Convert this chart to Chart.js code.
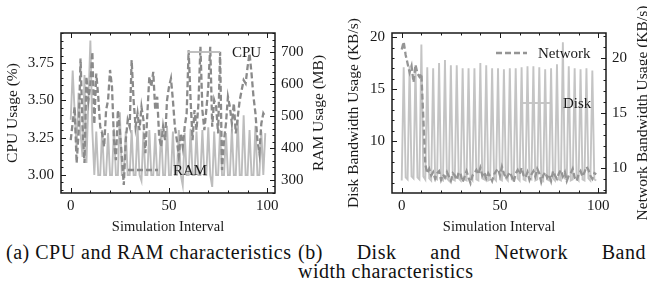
<!DOCTYPE html>
<html>
<head>
<meta charset="utf-8">
<script src="https://cdn.jsdelivr.net/npm/chart.js@4.4.1/dist/chart.umd.min.js"></script>
<style>
  html, body { margin: 0; padding: 0; background: #fff; overflow: hidden; width: 647px; height: 288px; }
  .wrap { position: absolute; top: 0; width: 330px; height: 240px; }
  .cap { position: absolute; font-family: "Liberation Serif", serif; font-size: 20px; letter-spacing: 0.5px; color: #111; line-height: 20px; }
</style>
</head>
<body>
<div class="wrap" style="left:0"><canvas id="cpuRam" width="330" height="240"></canvas></div>
<div class="wrap" style="left:330px"><canvas id="diskNet" width="330" height="240"></canvas></div>
<div class="cap" style="left:6px;top:242px;white-space:nowrap">(a) CPU and RAM characteristics</div>
<div class="cap" style="left:298px;top:242px;width:348px;text-align:justify;text-align-last:justify">(b) Disk and Network Band</div>
<div class="cap" style="left:298px;top:261px;white-space:nowrap">width characteristics</div>
<script>
// x positions: simulation interval 0..99
const intervals = Array.from({ length: 100 }, (_, i) => i);

const cpuUsage = [
  3.37, 3.70, 3.42, 3.18, 3.55, 3.28, 3.12, 3.67, 3.08, 3.50,
  3.90, 3.30, 3.00, 3.29, 3.00, 3.00, 3.30, 3.00, 3.00, 3.28,
  3.00, 3.00, 3.31, 3.00, 3.00, 3.42, 3.00, 3.00, 3.29, 3.00,
  3.00, 3.30, 3.00, 3.00, 3.33, 3.00, 2.96, 3.29, 3.00, 3.00,
  3.30, 3.00, 3.00, 3.28, 3.00, 3.00, 3.31, 3.00, 3.00, 3.33,
  3.00, 3.00, 3.29, 3.00, 3.00, 3.30, 3.00, 2.93, 3.28, 3.00,
  3.00, 3.31, 3.00, 3.00, 3.29, 3.00, 3.00, 3.30, 3.00, 3.00,
  3.32, 3.00, 2.92, 3.29, 3.00, 3.00, 3.30, 3.00, 3.00, 3.28,
  3.00, 3.00, 3.31, 3.00, 3.00, 3.37, 3.00, 3.00, 3.40, 3.00,
  3.00, 3.30, 3.00, 3.00, 3.33, 3.00, 3.00, 3.29, 3.00, 3.28
];

const ramUsage = [
  425, 480, 529, 353, 447, 681, 467, 353, 624, 550,
  600, 702, 475, 634, 561, 467, 446, 404, 519, 550,
  645, 592, 425, 362, 519, 456, 373, 284, 425, 488,
  467, 676, 550, 467, 509, 456, 529, 488, 384, 509,
  624, 592, 639, 519, 561, 435, 404, 467, 425, 550,
  592, 618, 550, 467, 425, 373, 446, 404, 467, 509,
  707, 550, 425, 519, 456, 540, 718, 519, 456, 519,
  592, 718, 467, 550, 529, 446, 702, 331, 425, 477,
  561, 529, 477, 540, 446, 498, 550, 582, 613, 603,
  655, 697, 634, 561, 509, 425, 384, 477, 509, 498
];

const diskUsage = [
  6.2, 17.1, 6.5, 6.3, 17.2, 6.6, 6.4, 17.3, 6.5, 6.3,
  19.3, 6.6, 6.3, 17.1, 6.4, 6.2, 17.0, 6.4, 6.3, 17.5,
  6.3, 6.2, 17.8, 6.4, 6.2, 17.3, 6.3, 6.2, 17.3, 6.4,
  6.2, 17.0, 6.3, 6.2, 17.0, 6.4, 6.2, 17.0, 6.3, 6.2,
  17.5, 6.4, 6.3, 17.3, 6.2, 6.3, 17.0, 6.4, 6.2, 17.0,
  6.3, 6.2, 16.9, 6.4, 6.2, 17.0, 6.3, 6.2, 17.0, 6.4,
  6.2, 17.1, 6.3, 6.2, 17.2, 6.4, 6.3, 17.2, 6.2, 6.3,
  17.1, 6.4, 6.2, 16.9, 6.3, 6.2, 17.0, 6.4, 6.2, 17.4,
  6.3, 6.2, 19.5, 6.4, 6.3, 17.2, 6.2, 6.3, 17.0, 6.4,
  6.2, 16.9, 6.3, 6.2, 17.0, 6.4, 6.2, 16.8, 6.3, 6.2
];

const networkUsage = [
  20.8, 21.5, 20.3, 19.5, 18.7, 19.3, 17.8, 19.4, 18.6, 18.3,
  18.6, 14.5, 10.3, 9.5, 9.9, 9.3, 9.6, 9.0, 9.5, 9.7,
  8.9, 9.4, 9.1, 9.6, 9.2, 8.8, 9.5, 9.3, 8.9, 9.6,
  9.4, 8.7, 9.2, 9.7, 9.1, 8.6, 9.3, 9.5, 9.8, 9.4,
  10.0, 9.3, 9.6, 9.0, 9.5, 9.2, 8.8, 9.4, 9.7, 9.9,
  9.3, 10.1, 9.5, 9.0, 9.3, 9.6, 9.2, 8.7, 9.5, 9.8,
  9.4, 10.0, 9.3, 9.1, 9.6, 8.9, 9.4, 9.7, 9.2, 9.9,
  9.5, 8.7, 9.3, 9.6, 9.1, 9.4, 8.8, 9.7, 9.3, 9.0,
  9.5, 9.8, 9.2, 9.6, 8.8, 9.3, 9.5, 9.9, 9.1, 8.8,
  9.4, 9.7, 9.2, 9.6, 10.1, 9.8, 9.3, 9.0, 9.5, 9.4
];

// tick labels
const xTicks = [0, 50, 100];
const cpuTicks = [3.00, 3.25, 3.50, 3.75];
const ramTicks = [300, 400, 500, 600, 700];
const diskTicks = [10, 15, 20];
const netTicks = [10, 15, 20];

const serif = '"Liberation Serif", "Times New Roman", serif';
const ink = '#1a1a1a';

// frame, inward ticks, axis titles and in-plot legend (matplotlib "science" look)
const sciencePlugin = {
  id: 'science',
  afterDraw(chart, args, opts) {
    const { ctx, chartArea: a, scales } = chart;
    ctx.save();

    // legend: line sample + label
    ctx.font = '15px ' + serif;
    ctx.textBaseline = 'middle';
    ctx.textAlign = 'left';
    opts.legend.forEach(item => {
      ctx.strokeStyle = item.color;
      ctx.lineWidth = item.width;
      ctx.setLineDash(item.dash || []);
      ctx.beginPath();
      ctx.moveTo(item.x1, item.y);
      ctx.lineTo(item.x2, item.y);
      ctx.stroke();
      ctx.setLineDash([]);
      ctx.fillStyle = ink;
      ctx.fillText(item.label, item.tx, item.y + 1);
    });

    // ticks
    ctx.strokeStyle = ink;
    ctx.lineWidth = 1;
    opts.ticks.forEach(t => {
      const sc = scales[t.id];
      for (let k = t.k0; k <= t.k1; k++) {
        const v = k * t.step;
        const len = k % t.every === 0 ? 5 : 2.5;
        const p = Math.round(sc.getPixelForValue(v)) + 0.5;
        ctx.beginPath();
        if (t.side === 'x') {
          ctx.moveTo(p, a.bottom); ctx.lineTo(p, a.bottom - len);
          ctx.moveTo(p, a.top); ctx.lineTo(p, a.top + len);
        } else if (t.side === 'left') {
          ctx.moveTo(a.left, p); ctx.lineTo(a.left + len, p);
        } else {
          ctx.moveTo(a.right, p); ctx.lineTo(a.right - len, p);
        }
        ctx.stroke();
      }
    });

    // frame
    ctx.lineWidth = 1.5;
    ctx.strokeRect(a.left, a.top, a.right - a.left, a.bottom - a.top);

    // axis titles
    ctx.fillStyle = ink;
    ctx.textAlign = 'center';
    ctx.textBaseline = 'middle';
    opts.titles.forEach(t => {
      ctx.save();
      ctx.font = t.size + 'px ' + serif;
      ctx.translate(t.x, t.y);
      ctx.rotate(t.rot || 0);
      ctx.fillText(t.text, 0, 0);
      ctx.restore();
    });
    ctx.restore();
  }
};

function tickFont() {
  return { family: serif, size: 15 };
}

function xScale() {
  return {
    type: 'linear',
    min: -4.95,
    max: 103.95,
    grid: { display: false, drawTicks: false },
    border: { display: false },
    afterBuildTicks: s => { s.ticks = xTicks.map(v => ({ value: v })); },
    ticks: { font: tickFont(), color: ink, padding: 4, maxRotation: 0 },
    afterFit: s => { s.height = 47; }
  };
}

function yScale(pos, min, max, values, width, pad, fmt) {
  return {
    type: 'linear',
    position: pos,
    min: min,
    max: max,
    grid: { display: false, drawTicks: false },
    border: { display: false },
    afterBuildTicks: s => { s.ticks = values.map(v => ({ value: v })); },
    ticks: { font: tickFont(), color: ink, padding: pad, callback: fmt },
    afterFit: s => { s.width = width; }
  };
}

const base = {
  responsive: false,
  animation: false,
  layout: { padding: { top: 33, bottom: 0, left: 0, right: 0 } },
  elements: { point: { radius: 0 }, line: { tension: 0 } }
};

new Chart(document.getElementById('cpuRam'), {
  type: 'line',
  data: {
    labels: intervals,
    datasets: [
      { label: 'CPU', data: cpuUsage, yAxisID: 'y', borderColor: '#bdbdbd', borderWidth: 1.9, order: 1 },
      { label: 'RAM', data: ramUsage, yAxisID: 'y2', borderColor: '#8a8a8a', borderWidth: 2.3, borderDash: [6, 3], order: 0 }
    ]
  },
  options: {
    ...base,
    scales: {
      x: xScale(),
      y: yScale('left', 2.879, 3.951, cpuTicks, 61, 7, v => v.toFixed(2)),
      y2: yScale('right', 259, 761, ramTicks, 55, 6, v => String(v))
    },
    plugins: {
      legend: { display: false },
      tooltip: { enabled: false },
      science: {
        ticks: [
          { id: 'x', side: 'x', step: 10, k0: 0, k1: 10, every: 5 },
          { id: 'y', side: 'left', step: 0.05, k0: 58, k1: 79, every: 5 },
          { id: 'y2', side: 'right', step: 20, k0: 13, k1: 38, every: 5 }
        ],
        legend: [
          { label: 'CPU', color: '#bdbdbd', width: 1.9, x1: 188, x2: 220, y: 52, tx: 232 },
          { label: 'RAM', color: '#8a8a8a', width: 2.3, dash: [6, 3], x1: 128, x2: 158, y: 170, tx: 173 }
        ],
        titles: [
          { text: 'Simulation Interval', x: 168, y: 227, size: 14.5 },
          { text: 'CPU Usage (%)', x: 12.5, y: 113, size: 15.5, rot: -Math.PI / 2 },
          { text: 'RAM Usage (MB)', x: 319, y: 113, size: 15.5, rot: -Math.PI / 2 }
        ]
      }
    }
  },
  plugins: [sciencePlugin]
});

new Chart(document.getElementById('diskNet'), {
  type: 'line',
  data: {
    labels: intervals,
    datasets: [
      { label: 'Disk', data: diskUsage, yAxisID: 'y', borderColor: '#c4c4c4', borderWidth: 1.9, order: 1 },
      { label: 'Network', data: networkUsage, yAxisID: 'y2', borderColor: '#959595', borderWidth: 2.3, borderDash: [6, 3], order: 0 }
    ]
  },
  options: {
    ...base,
    scales: {
      x: xScale(),
      y: yScale('left', 5.0, 20.4, diskTicks, 62, 7, v => String(v)),
      y2: yScale('right', 7.7, 22.3, netTicks, 54, 6, v => String(v))
    },
    plugins: {
      legend: { display: false },
      tooltip: { enabled: false },
      science: {
        ticks: [
          { id: 'x', side: 'x', step: 10, k0: 0, k1: 10, every: 5 },
          { id: 'y', side: 'left', step: 1, k0: 6, k1: 20, every: 5 },
          { id: 'y2', side: 'right', step: 1, k0: 8, k1: 22, every: 5 }
        ],
        legend: [
          { label: 'Network', color: '#959595', width: 2.3, dash: [6, 3], x1: 166, x2: 197, y: 53, tx: 208 },
          { label: 'Disk', color: '#c4c4c4', width: 1.9, x1: 190, x2: 222, y: 103, tx: 233 }
        ],
        titles: [
          { text: 'Simulation Interval', x: 169, y: 227, size: 14.5 },
          { text: 'Disk Bandwidth Usage (KB/s)', x: 24, y: 113, size: 15.5, rot: -Math.PI / 2 },
          { text: 'Network Bandwidth Usage (KB/s)', x: 313, y: 113, size: 15.5, rot: -Math.PI / 2 }
        ]
      }
    }
  },
  plugins: [sciencePlugin]
});
</script>
</body>
</html>
